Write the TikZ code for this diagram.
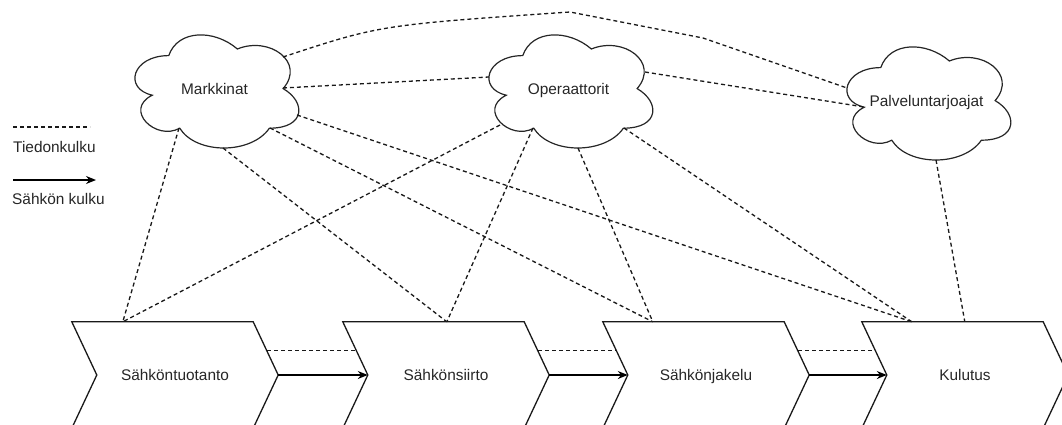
\documentclass[tikz,border=0pt]{standalone}
\usepackage{fontspec}
\setmainfont{Liberation Sans}
\usetikzlibrary{arrows.meta,calc}

\tikzset{
  lbl/.style={font=\fontsize{15.4}{18}\selectfont, text=black!85, inner sep=0pt,
              text height=11pt, text depth=0pt},
  cloudline/.style={draw=black!85, line width=1.2pt},
  info/.style={draw=black!90, line width=1.3pt, dash pattern=on 4pt off 3pt},
  power/.style={draw=black, line width=1.3pt, -{Stealth[length=10pt,width=8pt]}},
  stage/.style={lbl, minimum width=206pt, minimum height=106pt},
  chevline/.style={draw=black!90, line width=1.3pt, line join=miter},
  % cloud outline in a 183 x 132 box centred on the pic position
  cloudpic/.pic={
    \path[cloudline, x=183pt, y=-132pt, shift={(-0.5,-0.5)}]
      (0.25,0.25) .. controls (0.05,0.25) and (0,0.5) .. (0.16,0.55)
      .. controls (0,0.66) and (0.18,0.9) .. (0.31,0.8)
      .. controls (0.4,1) and (0.7,1) .. (0.8,0.8)
      .. controls (1,0.8) and (1,0.6) .. (0.875,0.5)
      .. controls (1,0.3) and (0.8,0.1) .. (0.625,0.2)
      .. controls (0.5,0.05) and (0.3,0.05) .. (0.25,0.25) -- cycle;
  }
}

% chevron outline around a stage node
\newcommand\stageoutline[1]{%
  \path[chevline] (#1.north west) -- ($(#1.north east)+(-25,0)$) -- (#1.east)
    -- ($(#1.south east)+(-25,0)$) -- (#1.south west) -- ($(#1.west)+(25,0)$) -- cycle;}

\begin{document}
\begin{tikzpicture}[x=1pt, y=-1pt]
  \useasboundingbox (0,0) rectangle (1062,425);
  \clip (0,0) rectangle (1062,425);

  % legend
  \coordinate (lgA) at (13,127);
  \coordinate (lgB) at (90,127);
  \node[lbl, anchor=west] (lgInfo) at (13,147.5) {Tiedonkulku};
  \coordinate (lgC) at (13,180);
  \coordinate (lgD) at (96,180);
  \node[lbl, anchor=west] (lgPower) at (12,199) {Sähkön kulku};
  \draw[info] (lgA) -- (lgB);
  \draw[power] (lgC) -- (lgD);

  % actors (clouds)
  \node[lbl] (mk) at (214.5,89) {Markkinat};
  \node[lbl] (op) at (568.5,89) {Operaattorit};
  \node[lbl] (pv) at (926.5,101.5) {Palveluntarjoajat};
  \pic at (214.5,88.6) {cloudpic};
  \pic at (568.5,88.6) {cloudpic};
  \pic at (926.5,100.6) {cloudpic};

  % value chain stages
  \node[stage] (s1) at (175,375) {Sähköntuotanto};
  \node[stage] (s2) at (446,375) {Sähkönsiirto};
  \node[stage] (s3) at (706,375) {Sähkönjakelu};
  \node[stage] (s4) at (965,375) {Kulutus};
  \stageoutline{s1}
  \stageoutline{s2}
  \stageoutline{s3}
  \stageoutline{s4}

  % attachment points on the clouds
  \coordinate (mkNE) at (283,57);
  \coordinate (mkE)  at (283,88);
  \coordinate (mkSE) at (297,115);
  \coordinate (mkS1) at (179,128);
  \coordinate (mkS2) at (223,148);
  \coordinate (mkS3) at (270,128);
  \coordinate (opW)  at (489,77);
  \coordinate (opSW) at (500,125);
  \coordinate (opS1) at (533,128);
  \coordinate (opS2) at (578,148);
  \coordinate (opS3) at (624,128);
  \coordinate (opE)  at (645,72);
  \coordinate (pvNW) at (847,88);
  \coordinate (pvW)  at (864,107);
  \coordinate (pvS)  at (936,160);

  % attachment points on the stages
  \coordinate (s1T)  at ($(s1.north west)+(51,0)$);
  \coordinate (s2T)  at ($(s2.north west)+(104,0)$);
  \coordinate (s3T)  at ($(s3.north west)+(50,0)$);
  \coordinate (s4T)  at ($(s4.north west)+(50,0)$);
  \coordinate (s4T2) at ($(s4.north west)+(103,0)$);

  % information flow between actors
  \draw[info] (mkNE) .. controls (380,25) .. (570,12) -- (703,38) -- (pvNW);
  \draw[info] (mkE) -- (opW);
  \draw[info] (opE) -- (pvW);

  % information flow from actors to stages
  \draw[info] (mkS1) -- (s1T);
  \draw[info] (mkS2) -- (s2T);
  \draw[info] (mkS3) -- (s3T);
  \draw[info] (mkSE) -- (s4T);
  \draw[info] (opSW) -- (s1T);
  \draw[info] (opS1) -- (s2T);
  \draw[info] (opS2) -- (s3T);
  \draw[info] (opS3) -- (s4T);
  \draw[info] (pvS) -- (s4T2);

  % information flow between stages
  \draw[info] ($(s1.north east)+(-11,29)$) -- ($(s2.north west)+(14,29)$);
  \draw[info] ($(s2.north east)+(-11,29)$) -- ($(s3.north west)+(14,29)$);
  \draw[info] ($(s3.north east)+(-11,29)$) -- ($(s4.north west)+(14,29)$);

  % power flow between stages
  \draw[power] (s1.east) -- ($(s2.west)+(25,0)$);
  \draw[power] (s2.east) -- ($(s3.west)+(25,0)$);
  \draw[power] (s3.east) -- ($(s4.west)+(25,0)$);
\end{tikzpicture}
\end{document}
